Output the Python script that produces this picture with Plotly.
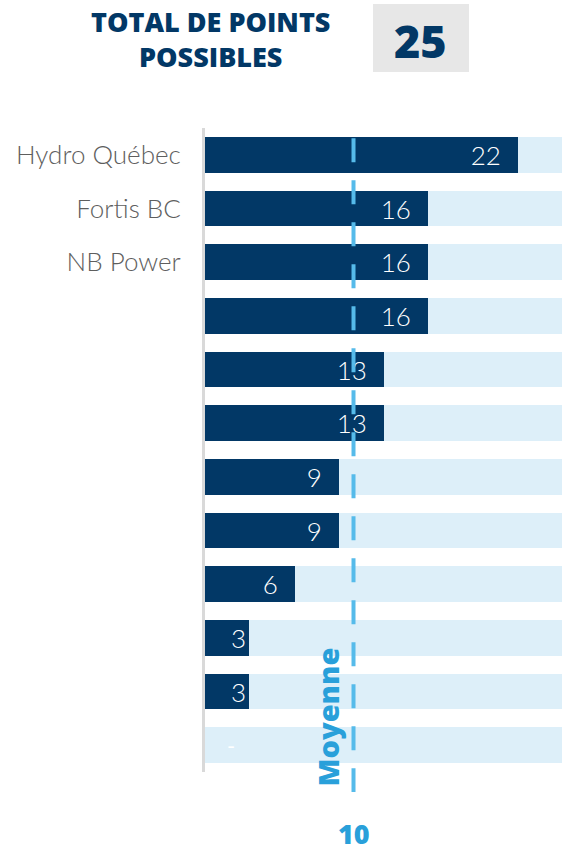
import plotly.graph_objects as go

# ---- data ----
categories = ["Hydro Québec", "Fortis BC", "NB Power", "", "", "", "", "", "", "", "", ""]
scores = [21.9, 15.6, 15.6, 15.6, 12.5, 12.5, 9.4, 9.4, 6.3, 3.1, 3.1, 0]
score_labels = ["22", "16", "16", "16", "13", "13", "9", "9", "6", "3", "3", "-"]
total_possible = 25
average = 10.4
average_label = "10"
average_title = "Moyenne"
title_text = "TOTAL DE POINTS<br>POSSIBLES"

NAVY = "#023866"
LIGHT = "#DDEFF9"
AVG_LINE = "#56BBEA"
AVG_TEXT = "#29A0DA"
HEAD_FONT = "Open Sans"

ypos = list(range(len(categories)))


def padded(lbl, s):
    if s <= 0:
        return ""
    return lbl + ("\u00a0\u00a0" if s > 5 else "")


fig = go.Figure()
fig.add_trace(go.Bar(
    x=[total_possible] * len(categories), y=ypos, orientation="h",
    marker=dict(color=LIGHT, line=dict(width=0)), width=0.67,
    hoverinfo="skip", showlegend=False,
))
fig.add_trace(go.Bar(
    x=scores, y=ypos, orientation="h",
    marker=dict(color=NAVY, line=dict(width=0)), width=0.67,
    text=[padded(lbl, s) for lbl, s in zip(score_labels, scores)],
    textposition="inside", insidetextanchor="end", textangle=0,
    textfont=dict(family="Lato", size=26, color="white", weight=300),
    constraintext="none",
    showlegend=False,
))

# zero-score label
for i, (s, lbl) in enumerate(zip(scores, score_labels)):
    if s == 0:
        fig.add_annotation(x=s, y=i, xref="x", yref="y", text=lbl, showarrow=False,
                           xanchor="left", yanchor="middle", xshift=20,
                           font=dict(family="Lato", size=22, color="white"))

# average line
fig.add_shape(type="line", xref="x", yref="paper", x0=average, x1=average,
              y0=0.984, y1=-0.031, layer="above",
              line=dict(color=AVG_LINE, width=4, dash="24px,18px"))
fig.add_annotation(x=average, y=0.0854, xref="x", yref="paper", text=average_title,
                   textangle=-90, showarrow=False, xshift=-27, xanchor="center", yanchor="middle",
                   font=dict(family=HEAD_FONT, size=29, color=AVG_TEXT, weight=800))
fig.add_annotation(x=average, y=(772 - 833) / 644, xref="x", yref="paper", text=average_label,
                   showarrow=False, xanchor="center", yanchor="middle",
                   font=dict(family=HEAD_FONT, size=27, color=AVG_TEXT, weight=800))

# header
fig.add_annotation(x=(210 - 205) / 357, y=(772 - 39) / 644, xref="paper", yref="paper",
                   text=title_text, align="center",
                   showarrow=False, xanchor="center", yanchor="middle",
                   font=dict(family=HEAD_FONT, size=27, color=NAVY, weight=800))
fig.add_shape(type="rect", xref="paper", yref="paper", x0=0.4706, x1=0.7395, y0=1.087, y1=1.1925,
              fillcolor="#E7E7E7", line=dict(width=0), layer="below")
fig.add_annotation(x=0.605, y=1.1366, xref="paper", yref="paper", text=str(total_possible),
                   showarrow=False, xanchor="center", yanchor="middle",
                   font=dict(family=HEAD_FONT, size=45, color=NAVY, weight=800))

fig.update_layout(
    width=562, height=849,
    margin=dict(l=205, r=0, t=128, b=77),
    paper_bgcolor="white", plot_bgcolor="white",
    barmode="overlay", bargap=0,
    xaxis=dict(range=[0, total_possible], showgrid=False, zeroline=False, showticklabels=False,
               fixedrange=True),
    yaxis=dict(tickvals=ypos, ticktext=categories, autorange="reversed", showgrid=False,
               zeroline=False, showline=True, linecolor="#D9D9D9", linewidth=3,
               ticks="", ticklabelstandoff=16,
               tickfont=dict(family="Lato", size=26, color="#5E5E5E", weight=300)),
)

fig.write_html("out.html", config={"displayModeBar": False},
               post_script="document.body.style.margin='0';document.body.style.overflow='hidden';")
